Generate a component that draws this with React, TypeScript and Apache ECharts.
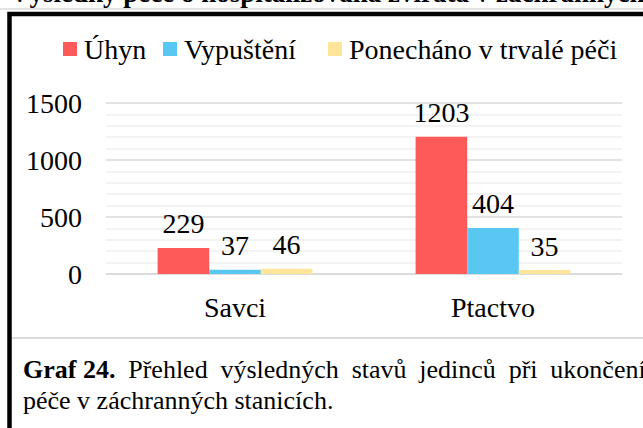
import React, { useEffect, useRef } from "react";
import * as echarts from "echarts";

const categories = ["Savci", "Ptactvo"];
const seriesNames = ["Úhyn", "Vypuštění", "Ponecháno v trvalé péči"];
const uhyn = [229, 1203];
const vypusteni = [37, 404];
const ponechano = [46, 35];
const seriesColors = ["#ff5a5a", "#58c8f2", "#ffe599"];
const headingText = "Výsledky péče o hospitalizovaná zvířata v záchranných stanicích";
const captionLabel = "Graf 24.";
const captionLine1Words = ["Přehled", "výsledných", "stavů", "jedinců", "při", "ukončení"];
const captionLine2 = "péče v záchranných stanicích.";

const FONT = "'Liberation Serif', 'Times New Roman', serif";

export default function App() {
  const ref = useRef<HTMLDivElement>(null);
  useEffect(() => {
    if (!ref.current) return;
    const chart = echarts.init(ref.current, null, { renderer: "svg" });
    const values = [uhyn, vypusteni, ponechano];
    const legendLefts = [58, 158, 323];
    const captionRich =
      "{b|" + captionLabel + "}" +
      captionLine1Words.map((w) => "{s| }{n|" + w + "}").join("");
    chart.setOption({
      animation: false,
      backgroundColor: "#ffffff",
      textStyle: { fontFamily: FONT },
      legend: seriesNames.map((n, i) => ({
        data: [n],
        left: legendLefts[i],
        top: 30,
        itemWidth: 14,
        itemHeight: 14,
        icon: "rect",
        textStyle: { fontFamily: FONT, fontSize: 28, color: "#000", padding: [0, 0, 0, 2] },
      })),
      grid: { left: 106, right: 21, top: 103, bottom: 154, containLabel: false },
      xAxis: {
        type: "category",
        data: categories,
        axisLine: { show: true, lineStyle: { color: "#d9d9d9", width: 1.5 } },
        axisTick: { show: false },
        axisLabel: { fontFamily: FONT, fontSize: 28, color: "#000", margin: 19 },
      },
      yAxis: {
        type: "value",
        min: 0,
        max: 1500,
        interval: 500,
        axisLine: { show: false },
        axisTick: { show: false },
        axisLabel: {
          fontFamily: FONT,
          fontSize: 28,
          color: "#000",
          margin: 24,
          formatter: (v: number) => String(v),
        },
        splitLine: { lineStyle: { color: "#d9d9d9", width: 1.5 } },
        minorTick: { show: false, splitNumber: 5 },
        minorSplitLine: { show: true, lineStyle: { color: "#efefef", width: 1.5 } },
      },
      series: seriesNames.map((n, i) => ({
        name: n,
        type: "bar",
        data: values[i],
        barGap: "0%",
        barCategoryGap: "40%",
        itemStyle: { color: seriesColors[i] },
        label: {
          show: true,
          position: "top",
          distance: 10,
          fontFamily: FONT,
          fontSize: 28,
          color: "#000",
        },
      })),
      graphic: [
        {
          type: "line",
          shape: { x1: 0, y1: 9, x2: 643, y2: 9 },
          style: { stroke: "#c8c8c8", lineWidth: 1 },
          z: 10,
        },
        {
          type: "text",
          x: 10,
          y: 6,
          style: {
            text: headingText,
            fontFamily: FONT,
            fontSize: 27,
            fontWeight: "bold",
            fill: "#000",
            verticalAlign: "bottom",
          },
          z: 5,
        },
        {
          type: "rect",
          shape: { x: 9.5, y: 14, width: 900, height: 600 },
          style: { fill: "none", stroke: "#000", lineWidth: 4.5 },
          z: 10,
        },
        {
          type: "line",
          shape: { x1: 12, y1: 338, x2: 643, y2: 338 },
          style: { stroke: "#d9d9d9", lineWidth: 2 },
          z: 10,
        },
        {
          type: "text",
          x: 23,
          y: 369,
          style: {
            text: captionRich,
            fill: "#000",
            verticalAlign: "middle",
            rich: {
              b: { fontFamily: FONT, fontSize: 26, fontWeight: "bold", fill: "#000" },
              n: { fontFamily: FONT, fontSize: 26, fill: "#000" },
              s: { fontFamily: FONT, fontSize: 26, width: 12.8 },
            },
          },
          z: 10,
        },
        {
          type: "text",
          x: 23,
          y: 400,
          style: {
            text: captionLine2,
            fontFamily: FONT,
            fontSize: 26,
            fill: "#000",
            verticalAlign: "middle",
          },
          z: 10,
        },
      ],
    });
    return () => chart.dispose();
  }, []);
  return (
    <div
      ref={ref}
      style={{ position: "fixed", left: 0, top: 0, width: 643, height: 428, background: "#fff" }}
    />
  );
}
